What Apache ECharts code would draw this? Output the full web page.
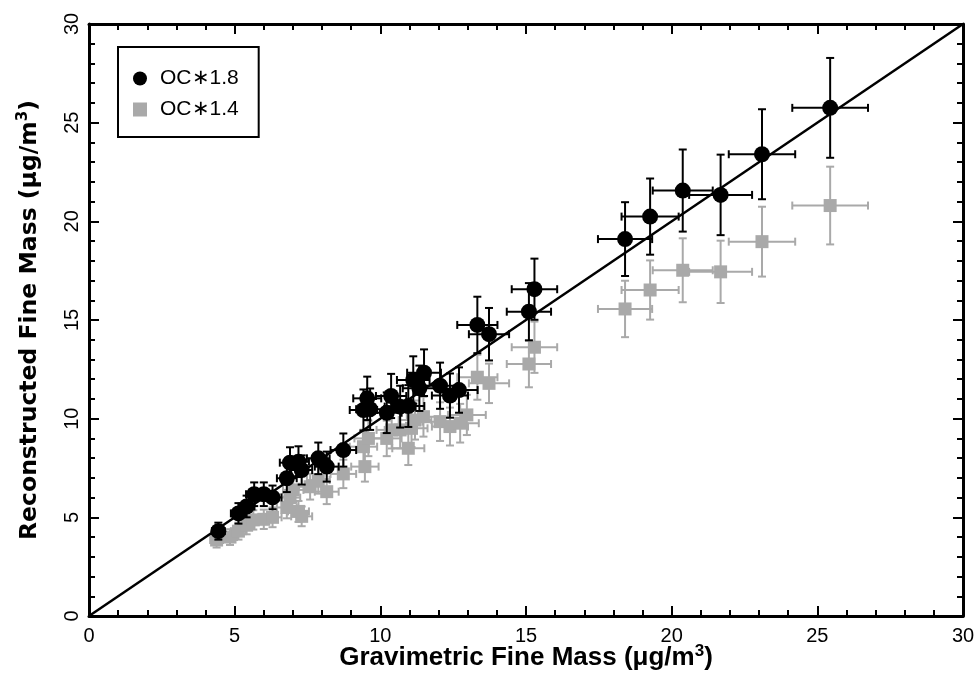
<!DOCTYPE html>
<html>
<head>
<meta charset="utf-8">
<script src="https://cdn.jsdelivr.net/npm/echarts@6/dist/echarts.min.js"></script>
<style>
  html, body { margin: 0; padding: 0; background: #fff; }
  #chart { width: 979px; height: 695px; }
</style>
</head>
<body>
<div id="chart"></div>
<script>
// [gravimetric x, reconstructed y, x error, y error]
const oc18Points = [
  [4.44, 4.30, 0.22, 0.43], [5.13, 5.20, 0.26, 0.52], [5.41, 5.55, 0.27, 0.55],
  [5.67, 6.17, 0.28, 0.60], [6.00, 6.17, 0.30, 0.60], [6.30, 6.01, 0.31, 0.60],
  [6.79, 6.98, 0.34, 0.70], [6.90, 7.77, 0.35, 0.78], [7.19, 7.82, 0.36, 0.78],
  [7.30, 7.40, 0.36, 0.74], [7.87, 7.99, 0.39, 0.80], [8.16, 7.57, 0.41, 0.76],
  [8.73, 8.41, 0.44, 0.84], [9.42, 10.44, 0.47, 1.04], [9.55, 11.03, 0.48, 1.10],
  [9.65, 10.48, 0.48, 1.05], [10.22, 10.30, 0.51, 1.03], [10.37, 11.15, 0.52, 1.12],
  [10.68, 10.61, 0.53, 1.06], [10.96, 10.64, 0.55, 1.06], [11.13, 11.96, 0.56, 1.20],
  [11.34, 11.54, 0.57, 1.15], [11.50, 12.33, 0.58, 1.18], [12.05, 11.67, 0.60, 1.17],
  [12.39, 11.17, 0.62, 1.12], [12.70, 11.45, 0.64, 1.15], [13.33, 14.75, 0.69, 1.43],
  [13.73, 14.28, 0.69, 1.33], [15.10, 15.42, 0.76, 1.45], [15.29, 16.56, 0.78, 1.55],
  [18.40, 19.10, 0.93, 1.87], [19.26, 20.24, 0.98, 1.93], [20.38, 21.56, 1.03, 2.08],
  [21.68, 21.34, 1.08, 2.04], [23.10, 23.40, 1.14, 2.28], [25.44, 25.75, 1.30, 2.53]
];
const oc14Points = [
  [4.38, 3.85, 0.22, 0.38], [4.84, 4.00, 0.24, 0.40], [5.13, 4.30, 0.26, 0.43],
  [5.41, 4.60, 0.27, 0.46], [5.64, 4.87, 0.28, 0.49], [6.00, 4.90, 0.30, 0.49],
  [6.30, 5.00, 0.31, 0.50], [6.79, 5.50, 0.34, 0.55], [6.90, 6.00, 0.35, 0.60],
  [7.01, 6.39, 0.35, 0.64], [7.19, 5.30, 0.36, 0.53], [7.30, 5.05, 0.36, 0.50],
  [7.59, 6.55, 0.38, 0.65], [7.87, 6.89, 0.39, 0.69], [8.16, 6.30, 0.41, 0.63],
  [8.73, 7.20, 0.44, 0.72], [9.42, 8.58, 0.47, 0.86], [9.47, 7.57, 0.47, 0.76],
  [9.59, 9.00, 0.48, 0.90], [10.22, 9.00, 0.51, 0.90], [10.39, 9.43, 0.52, 0.94],
  [10.68, 9.43, 0.53, 0.94], [10.96, 8.50, 0.55, 0.85], [11.07, 9.51, 0.55, 0.95],
  [11.19, 9.93, 0.56, 0.99], [11.48, 10.10, 0.57, 1.01], [12.05, 9.85, 0.60, 0.98],
  [12.39, 9.60, 0.62, 0.96], [12.74, 9.77, 0.64, 0.98], [12.97, 10.19, 0.65, 1.02],
  [13.33, 12.10, 0.69, 1.14], [13.73, 11.79, 0.69, 1.00], [15.10, 12.77, 0.76, 1.18],
  [15.29, 13.62, 0.78, 1.30], [18.40, 15.56, 0.93, 1.43], [19.26, 16.52, 0.98, 1.50],
  [20.38, 17.52, 1.03, 1.62], [21.68, 17.44, 1.08, 1.58], [23.10, 18.97, 1.14, 1.77],
  [25.44, 20.80, 1.30, 1.97]
];
const oneToOne = [[0, 0], [30, 30]];
const axisMin = 0, axisMax = 30, axisStep = 5;

const sansFont = "'Liberation Sans', Arial, sans-serif";
const gray = '#a9a9a9';

function errorBars(color) {
  return function (params, api) {
    const x = api.value(0), y = api.value(1), ex = api.value(2), ey = api.value(3);
    const l = api.coord([x - ex, y]), r = api.coord([x + ex, y]);
    const t = api.coord([x, y + ey]), b = api.coord([x, y - ey]);
    const cap = 4;
    const style = { stroke: color, lineWidth: 2 };
    const line = (x1, y1, x2, y2) => ({ type: 'line', shape: { x1, y1, x2, y2 }, style });
    return {
      type: 'group',
      children: [
        line(l[0], l[1], r[0], r[1]),
        line(t[0], t[1], b[0], b[1]),
        line(l[0], l[1] - cap, l[0], l[1] + cap),
        line(r[0], r[1] - cap, r[0], r[1] + cap),
        line(t[0] - cap, t[1], t[0] + cap, t[1]),
        line(b[0] - cap, b[1], b[0] + cap, b[1])
      ]
    };
  };
}

const axisCommon = {
  type: 'value', min: axisMin, max: axisMax, interval: axisStep,
  axisLine: { show: true, onZero: false, lineStyle: { color: '#000', width: 3 } },
  axisTick: { show: true, inside: true, length: 10, lineStyle: { color: '#000', width: 2 } },
  minorTick: { show: true, splitNumber: 5, length: 6, lineStyle: { color: '#000', width: 2 } },
  splitLine: { show: false }
};

const chart = echarts.init(document.getElementById('chart'));
chart.setOption({
  animation: false,
  backgroundColor: '#fff',
  grid: { left: 89, right: 16, top: 24, bottom: 79 },
  xAxis: [
    Object.assign({}, axisCommon, {
      position: 'bottom',
      axisLabel: { color: '#000', fontSize: 20, fontFamily: sansFont, margin: 10 },
      name: 'Gravimetric Fine Mass (μg/m{sup|3})',
      nameLocation: 'middle', nameGap: 27, nameMoveOverlap: false,
      nameTextStyle: {
        color: '#000', fontSize: 26, fontWeight: 'bold', fontFamily: sansFont,
        rich: { sup: { fontSize: 17, fontWeight: 'bold', padding: [0, 0, 12, 0], fontFamily: sansFont } }
      }
    }),
    Object.assign({}, axisCommon, { position: 'top', axisLabel: { show: false } })
  ],
  yAxis: [
    Object.assign({}, axisCommon, {
      position: 'left',
      axisLabel: { color: '#000', fontSize: 20, fontFamily: sansFont, rotate: 90, margin: 7 },
      name: 'Reconstructed Fine Mass (μg/m{sup|3})',
      nameLocation: 'middle', nameGap: 46, nameRotate: 90, nameMoveOverlap: false,
      nameTextStyle: {
        color: '#000', fontSize: 23.5, fontWeight: 'bold', fontFamily: "'DejaVu Sans', sans-serif",
        rich: { sup: { fontSize: 15, fontWeight: 'bold', padding: [0, 0, 12, 0], fontFamily: "'DejaVu Sans', sans-serif" } }
      }
    }),
    Object.assign({}, axisCommon, { position: 'right', axisLabel: { show: false } })
  ],
  legend: {
    left: 118, top: 47, orient: 'vertical',
    data: [{ name: 'OC∗1.8', icon: 'circle' }, { name: 'OC∗1.4', icon: 'rect' }],
    borderColor: '#000', borderWidth: 2, borderRadius: 0,
    padding: [21, 20, 17, 15], itemGap: 10, itemWidth: 14, itemHeight: 14,
    textStyle: { color: '#000', fontSize: 21, fontFamily: sansFont, padding: [0, 0, 0, 8] }
  },
  series: [
    {
      type: 'custom', name: 'oc14err', renderItem: errorBars(gray),
      data: oc14Points, z: 1, silent: true
    },
    {
      type: 'scatter', name: 'OC∗1.4', symbol: 'rect', symbolSize: 13,
      itemStyle: { color: gray, opacity: 1 }, data: oc14Points, z: 2
    },
    {
      type: 'custom', name: 'oc18err', renderItem: errorBars('#000'),
      data: oc18Points, z: 3, silent: true
    },
    {
      type: 'scatter', name: 'OC∗1.8', symbol: 'circle', symbolSize: 16,
      itemStyle: { color: '#000', opacity: 1 }, data: oc18Points, z: 4
    },
    {
      type: 'line', name: '1:1', data: oneToOne, symbol: 'none', z: 5,
      lineStyle: { color: '#000', width: 2.5 }
    }
  ]
});
</script>
</body>
</html>
